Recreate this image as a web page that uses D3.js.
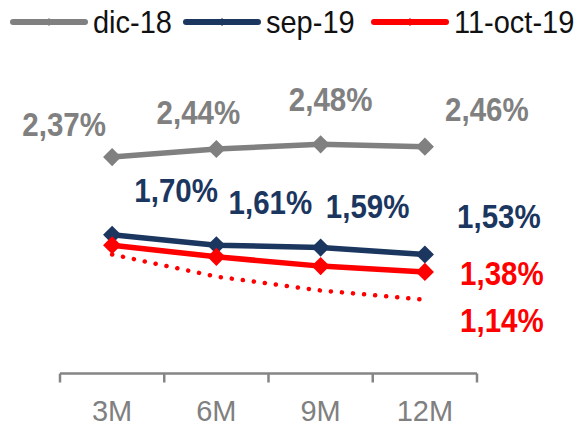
<!DOCTYPE html>
<html>
<head>
<meta charset="utf-8">
<script src="https://cdn.jsdelivr.net/npm/d3@7"></script>
<style>
  html,body{margin:0;padding:0;background:#fff;}
  svg{display:block;}
</style>
</head>
<body>
<div id="chart"></div>
<script>
// tenors + series
const tenors=["3M","6M","9M","12M"];
const seriesNames=["dic-18","sep-19","11-oct-19"];
const dic18=[2.37,2.44,2.48,2.46];
const sep19=[1.70,1.61,1.59,1.53];
const oct19=[1.61,1.51,1.43,1.38];
const oct19Dotted=[1.53,1.34,1.22,1.14];

const W=580,H=427;
const font="Arial, 'Liberation Sans', sans-serif";
const colors={"dic-18":"#808080","sep-19":"#1b365f","11-oct-19":"#ff0000"};
const tall=1.1; // text in the original is a bit stretched vertically

const svg=d3.select("#chart").append("svg").attr("width",W).attr("height",H);

const x=d3.scaleBand().domain(tenors).range([60,477]);
const y=d3.scaleLinear().domain([1,2.6]).range([316,130.4]);
const cx=d=>x(d)+x.bandwidth()/2;

// axis -- band edges as ticks, labels at band centres
const axisY=373.5;
const edges=tenors.map(t=>x(t)).concat([x.range()[1]]);
svg.append("line").attr("x1",x.range()[0]).attr("x2",x.range()[1])
  .attr("y1",axisY).attr("y2",axisY).attr("stroke","#858585").attr("stroke-width",2.5);
svg.selectAll("line.tk").data(edges).join("line").attr("class","tk")
  .attr("x1",d=>d).attr("x2",d=>d).attr("y1",axisY).attr("y2",axisY+9)
  .attr("stroke","#858585").attr("stroke-width",2.5);
svg.selectAll("text.xl").data(tenors).join("text").attr("class","xl")
  .attr("transform",d=>`translate(${cx(d)},421) scale(1,1.04)`).attr("text-anchor","middle")
  .attr("fill","#808080").style("font-family",font).style("font-size","29px")
  .text(d=>d);

const line=d3.line().x((d,i)=>cx(tenors[i])).y(d=>y(d));
const diamond=d3.symbol().type(d3.symbolDiamond2);

// dotted red (no markers)
svg.append("path").attr("d",line(oct19Dotted)).attr("fill","none")
  .attr("stroke","#ff0000").attr("stroke-width",4.5)
  .attr("stroke-linecap","round").attr("stroke-dasharray","0.1 11");

const series=[
  {name:"dic-18",vals:dic18},
  {name:"sep-19",vals:sep19},
  {name:"11-oct-19",vals:oct19}
];
series.forEach(s=>{
  const c=colors[s.name];
  svg.append("path").attr("d",line(s.vals)).attr("fill","none")
    .attr("stroke",c).attr("stroke-width",5.5).attr("stroke-linejoin","round");
  svg.selectAll(null).data(s.vals).join("path")
    .attr("transform",(d,i)=>`translate(${cx(tenors[i])},${y(d)})`)
    .attr("d",diamond.size(210)()).attr("fill",c);
});

// data labels (manual nudges like the original)
const labelNudge={
  "dic-18":[[-48,-21],[-18,-25],[10,-33],[62,-26]],
  "sep-19":[[64,-33],[54,-31],[47,-30],[74,-27]],
  "11-oct-19":[null,null,null,[77,13]]
};
const fmt=v=>v.toFixed(2).replace(".",",")+"%";
function dataLabel(px,py,col,v){
  svg.append("text").attr("transform",`translate(${px},${py}) scale(1,${tall})`)
    .attr("text-anchor","middle").attr("fill",col)
    .style("font-family",font).style("font-size","29.5px").style("font-weight","bold")
    .text(fmt(v));
}
series.forEach(s=>{
  s.vals.forEach((v,i)=>{
    const n=labelNudge[s.name][i];
    if(!n) return;
    dataLabel(cx(tenors[i])+n[0],y(v)+n[1],colors[s.name],v);
  });
});
const last=oct19Dotted.length-1;
dataLabel(cx(tenors[last])+77,y(oct19Dotted[last])+32,"#ff0000",oct19Dotted[last]);

// legend
const legX=[13,186,374];
const leg=svg.selectAll("g.leg").data(seriesNames).join("g").attr("class","leg")
  .attr("transform",(d,i)=>`translate(${legX[i]},22)`);
leg.append("line").attr("x1",0).attr("x2",72).attr("y1",0).attr("y2",0)
  .attr("stroke",d=>colors[d]).attr("stroke-width",6).attr("stroke-linecap","round");
leg.append("path").attr("transform","translate(36,0)")
  .attr("d",diamond.size(40)()).attr("fill",d=>colors[d]);
leg.append("text").attr("transform",`translate(80,11) scale(1,${tall})`)
  .attr("fill","#111").style("font-family",font).style("font-size","29px")
  .text(d=>d);
</script>
</body>
</html>
